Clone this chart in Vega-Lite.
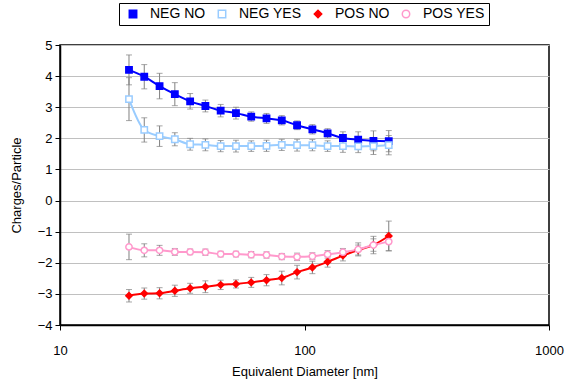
{
  "$schema": "https://vega.github.io/schema/vega-lite/v6.json",
  "autosize": {"type": "none"},
  "width": 489,
  "height": 280,
  "padding": {"left": 60, "top": 45, "right": 29, "bottom": 62},
  "background": "white",
  "config": {
    "font": "Liberation Sans",
    "view": {"stroke": "black", "strokeWidth": 1.5},
    "axis": {"labelFont": "Liberation Sans", "titleFont": "Liberation Sans", "labelColor": "black", "titleColor": "black", "titleFontWeight": "normal", "domainColor": "black", "tickColor": "black", "labelFontSize": 13, "titleFontSize": 13},
    "legend": {"orient": "none", "legendX": 59, "legendY": -42, "direction": "horizontal", "strokeColor": "black", "fillColor": "white", "padding": 4, "labelFontSize": 14, "labelFont": "Liberation Sans", "labelColor": "black", "symbolSize": 55, "symbolStrokeWidth": 1.5, "symbolOffset": 3, "labelOffset": 10, "columnPadding": 6}
  },
  "data": {"values": [
    {"d": 19.15, "s": "NEG NO", "v": 4.20, "e": 0.48},
    {"d": 22.11, "s": "NEG NO", "v": 3.98, "e": 0.39},
    {"d": 25.54, "s": "NEG NO", "v": 3.68, "e": 0.41},
    {"d": 29.49, "s": "NEG NO", "v": 3.42, "e": 0.37},
    {"d": 34.06, "s": "NEG NO", "v": 3.19, "e": 0.25},
    {"d": 39.32, "s": "NEG NO", "v": 3.04, "e": 0.19},
    {"d": 45.41, "s": "NEG NO", "v": 2.89, "e": 0.20},
    {"d": 52.44, "s": "NEG NO", "v": 2.81, "e": 0.19},
    {"d": 60.55, "s": "NEG NO", "v": 2.70, "e": 0.15},
    {"d": 69.92, "s": "NEG NO", "v": 2.64, "e": 0.16},
    {"d": 80.74, "s": "NEG NO", "v": 2.58, "e": 0.15},
    {"d": 93.24, "s": "NEG NO", "v": 2.42, "e": 0.14},
    {"d": 107.7, "s": "NEG NO", "v": 2.29, "e": 0.15},
    {"d": 124.3, "s": "NEG NO", "v": 2.16, "e": 0.15},
    {"d": 143.6, "s": "NEG NO", "v": 2.01, "e": 0.20},
    {"d": 165.8, "s": "NEG NO", "v": 1.96, "e": 0.25},
    {"d": 191.4, "s": "NEG NO", "v": 1.92, "e": 0.32},
    {"d": 221.1, "s": "NEG NO", "v": 1.91, "e": 0.34},
    {"d": 19.15, "s": "NEG YES", "v": 3.26, "e": 0.69},
    {"d": 22.11, "s": "NEG YES", "v": 2.27, "e": 0.39},
    {"d": 25.54, "s": "NEG YES", "v": 2.07, "e": 0.33},
    {"d": 29.49, "s": "NEG YES", "v": 1.97, "e": 0.21},
    {"d": 34.06, "s": "NEG YES", "v": 1.81, "e": 0.19},
    {"d": 39.32, "s": "NEG YES", "v": 1.79, "e": 0.19},
    {"d": 45.41, "s": "NEG YES", "v": 1.75, "e": 0.18},
    {"d": 52.44, "s": "NEG YES", "v": 1.75, "e": 0.19},
    {"d": 60.55, "s": "NEG YES", "v": 1.75, "e": 0.17},
    {"d": 69.92, "s": "NEG YES", "v": 1.76, "e": 0.18},
    {"d": 80.74, "s": "NEG YES", "v": 1.79, "e": 0.18},
    {"d": 93.24, "s": "NEG YES", "v": 1.78, "e": 0.19},
    {"d": 107.7, "s": "NEG YES", "v": 1.78, "e": 0.18},
    {"d": 124.3, "s": "NEG YES", "v": 1.75, "e": 0.17},
    {"d": 143.6, "s": "NEG YES", "v": 1.75, "e": 0.20},
    {"d": 165.8, "s": "NEG YES", "v": 1.74, "e": 0.20},
    {"d": 191.4, "s": "NEG YES", "v": 1.75, "e": 0.27},
    {"d": 221.1, "s": "NEG YES", "v": 1.78, "e": 0.31},
    {"d": 19.15, "s": "POS NO", "v": -3.06, "e": 0.20},
    {"d": 22.11, "s": "POS NO", "v": -2.99, "e": 0.18},
    {"d": 25.54, "s": "POS NO", "v": -2.98, "e": 0.18},
    {"d": 29.49, "s": "POS NO", "v": -2.90, "e": 0.18},
    {"d": 34.06, "s": "POS NO", "v": -2.82, "e": 0.16},
    {"d": 39.32, "s": "POS NO", "v": -2.77, "e": 0.19},
    {"d": 45.41, "s": "POS NO", "v": -2.71, "e": 0.15},
    {"d": 52.44, "s": "POS NO", "v": -2.68, "e": 0.13},
    {"d": 60.55, "s": "POS NO", "v": -2.63, "e": 0.16},
    {"d": 69.92, "s": "POS NO", "v": -2.56, "e": 0.18},
    {"d": 80.74, "s": "POS NO", "v": -2.49, "e": 0.22},
    {"d": 93.24, "s": "POS NO", "v": -2.30, "e": 0.22},
    {"d": 107.7, "s": "POS NO", "v": -2.15, "e": 0.20},
    {"d": 124.3, "s": "POS NO", "v": -1.97, "e": 0.17},
    {"d": 143.6, "s": "POS NO", "v": -1.77, "e": 0.17},
    {"d": 165.8, "s": "POS NO", "v": -1.59, "e": 0.16},
    {"d": 191.4, "s": "POS NO", "v": -1.43, "e": 0.20},
    {"d": 221.1, "s": "POS NO", "v": -1.14, "e": 0.48},
    {"d": 19.15, "s": "POS YES", "v": -1.49, "e": 0.41},
    {"d": 22.11, "s": "POS YES", "v": -1.60, "e": 0.21},
    {"d": 25.54, "s": "POS YES", "v": -1.60, "e": 0.16},
    {"d": 29.49, "s": "POS YES", "v": -1.65, "e": 0.11},
    {"d": 34.06, "s": "POS YES", "v": -1.65, "e": 0.09},
    {"d": 39.32, "s": "POS YES", "v": -1.66, "e": 0.10},
    {"d": 45.41, "s": "POS YES", "v": -1.72, "e": 0.09},
    {"d": 52.44, "s": "POS YES", "v": -1.72, "e": 0.09},
    {"d": 60.55, "s": "POS YES", "v": -1.74, "e": 0.10},
    {"d": 69.92, "s": "POS YES", "v": -1.75, "e": 0.10},
    {"d": 80.74, "s": "POS YES", "v": -1.80, "e": 0.10},
    {"d": 93.24, "s": "POS YES", "v": -1.81, "e": 0.12},
    {"d": 107.7, "s": "POS YES", "v": -1.79, "e": 0.11},
    {"d": 124.3, "s": "POS YES", "v": -1.73, "e": 0.12},
    {"d": 143.6, "s": "POS YES", "v": -1.66, "e": 0.12},
    {"d": 165.8, "s": "POS YES", "v": -1.57, "e": 0.21},
    {"d": 191.4, "s": "POS YES", "v": -1.43, "e": 0.28},
    {"d": 221.1, "s": "POS YES", "v": -1.32, "e": 0.29}
  ]},
  "encoding": {
    "x": {"field": "d", "type": "quantitative", "scale": {"type": "log", "domain": [10, 1000], "nice": false},
      "axis": {"title": "Equivalent Diameter [nm]", "values": [10, 100, 1000], "format": "d", "grid": false, "tickSize": 5, "labelPadding": 14, "titlePadding": 8, "domainWidth": 1.5, "labelFlush": false}},
    "y": {"field": "v", "type": "quantitative", "scale": {"domain": [-4, 5], "nice": false, "zero": false},
      "axis": {"title": "Charges/Particle", "values": [-4, -3, -2, -1, 0, 1, 2, 3, 4, 5], "grid": true, "gridColor": "#c0c0c0", "gridWidth": 1, "tickSize": 5, "labelPadding": 3, "titlePadding": 14, "domainWidth": 1.5, "labelFlush": false}}
  },
  "layer": [
    {
      "mark": {"type": "errorbar", "color": "#808080", "ticks": {"size": 6, "color": "#808080"}, "rule": {"strokeWidth": 1}},
      "encoding": {
        "y": {"field": "v", "type": "quantitative"},
        "yError": {"field": "e"},
        "detail": {"field": "s"}
      }
    },
    {
      "mark": {"type": "line", "strokeWidth": 2, "interpolate": "monotone"},
      "encoding": {
        "stroke": {"field": "s", "type": "nominal", "title": null,
          "scale": {"domain": ["NEG NO", "NEG YES", "POS NO", "POS YES"], "range": ["#0000FF", "#99CCFF", "#FF0000", "#FF99CC"]}}
      }
    },
    {
      "mark": {"type": "point", "filled": false, "size": 40, "strokeWidth": 1.5, "opacity": 1},
      "encoding": {
        "stroke": {"field": "s", "type": "nominal", "title": null,
          "scale": {"domain": ["NEG NO", "NEG YES", "POS NO", "POS YES"], "range": ["#0000FF", "#99CCFF", "#FF0000", "#FF99CC"]}},
        "fill": {"field": "s", "type": "nominal", "title": null,
          "scale": {"domain": ["NEG NO", "NEG YES", "POS NO", "POS YES"], "range": ["#0000FF", "#FFFFFF", "#FF0000", "#FFFFFF"]}},
        "shape": {"field": "s", "type": "nominal", "title": null,
          "scale": {"domain": ["NEG NO", "NEG YES", "POS NO", "POS YES"], "range": ["square", "square", "diamond", "circle"]}}
      }
    }
  ]
}
